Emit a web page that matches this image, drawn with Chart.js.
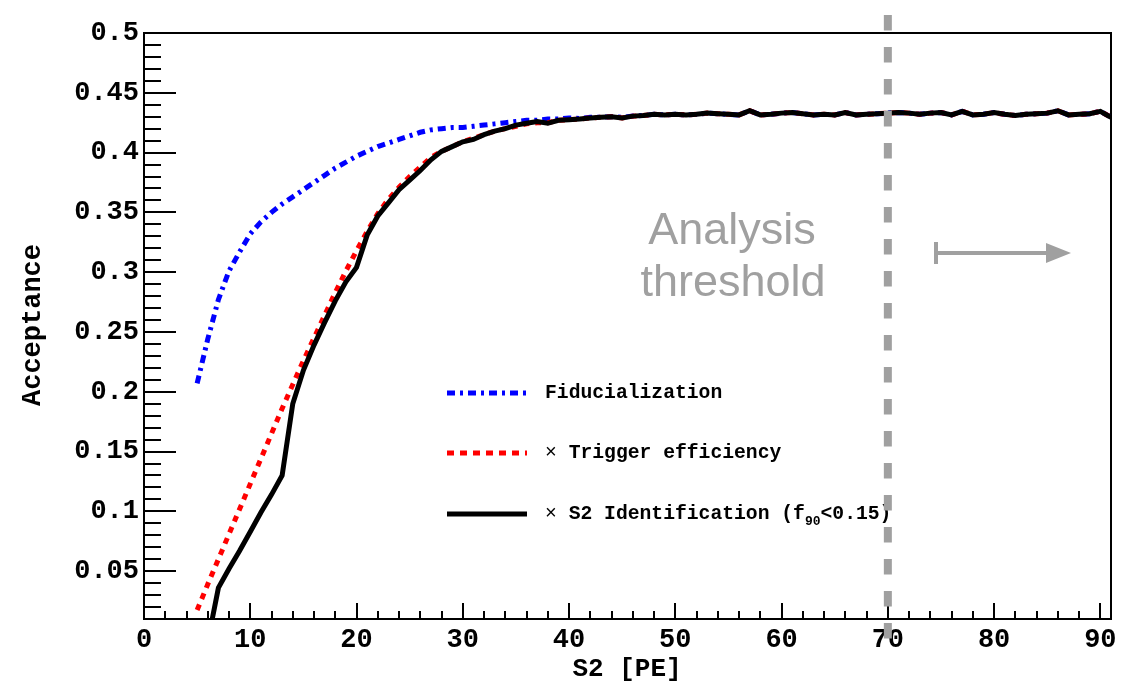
<!DOCTYPE html>
<html><head><meta charset="utf-8">
<script src="https://cdn.jsdelivr.net/npm/chart.js@4.4.1/dist/chart.umd.min.js"></script>
<style>html,body{margin:0;padding:0;background:#fff}</style>
</head><body>
<canvas id="c" width="1134" height="683"></canvas>
<script>
// ---------- data ----------
const s2PE = [5,6,7,8,9,10,11,12,13,14,15,16,17,18,19,20,21,22,23,24,25,26,27,28,29,30,31,32,33,34,35,36,37,38,39,40,
  41,42,43,44,45,46,47,48,49,50,51,52,53,54,55,56,57,58,59,60,61,62,63,64,65,66,67,68,69,70,71,72,73,74,75,76,77,78,79,80,
  81,82,83,84,85,86,87,88,89,90,91];

const fiducialization = [0.207,0.244,0.277,0.301,0.317,0.332,0.342,0.350,0.357,0.363,0.369,0.375,0.381,0.387,0.392,0.397,0.401,0.405,0.408,0.411,
  0.414,0.417,0.419,0.420,0.421,0.421,0.422,0.423,0.424,0.425,0.426,0.427,0.427,0.428,0.428,0.429,
  0.4285,0.4295,0.4295,0.430,0.4295,0.4305,0.431,0.432,0.4315,0.432,0.4315,0.432,0.433,0.4325,0.432,0.4315,0.435,0.4315,0.432,0.433,
  0.4335,0.4325,0.4315,0.432,0.4315,0.4335,0.4315,0.432,0.4325,0.433,0.4335,0.433,0.432,0.433,0.4335,0.4315,0.4345,0.4315,0.432,0.4335,
  0.432,0.431,0.432,0.4325,0.433,0.435,0.4315,0.432,0.4325,0.4345,0.4295];

const triggerEff = [0.0175,0.039,0.060,0.081,0.102,0.123,0.144,0.165,0.186,0.206,0.226,0.245,0.264,0.283,0.301,0.318,0.334,0.349,0.361,0.371,
  0.380,0.388,0.396,0.401,0.405,0.409,0.412,0.415,0.418,0.420,0.422,0.424,0.425,0.425,0.427,0.4275,
  0.428,0.429,0.4295,0.430,0.429,0.4305,0.431,0.432,0.4315,0.432,0.4315,0.432,0.433,0.4325,0.432,0.4315,0.435,0.4315,0.432,0.433,
  0.4335,0.4325,0.4315,0.432,0.4315,0.4335,0.4315,0.432,0.4325,0.433,0.4335,0.433,0.432,0.433,0.4335,0.4315,0.4345,0.4315,0.432,0.4335,
  0.432,0.431,0.432,0.4325,0.433,0.435,0.4315,0.432,0.4325,0.4345,0.4295];

const s2Ident = [null,-0.009,0.036,0.052,0.067,0.083,0.099,0.114,0.130,0.190,0.218,0.239,0.258,0.276,0.292,0.304,0.331,0.347,0.358,0.369,
  0.377,0.385,0.394,0.401,0.405,0.409,0.411,0.415,0.418,0.420,0.423,0.4245,0.426,0.4245,0.427,0.4275,
  0.428,0.429,0.4295,0.430,0.429,0.4305,0.431,0.432,0.4315,0.432,0.4315,0.432,0.433,0.4325,0.432,0.4315,0.435,0.4315,0.432,0.433,
  0.4335,0.4325,0.4315,0.432,0.4315,0.4335,0.4315,0.432,0.4325,0.433,0.4335,0.433,0.432,0.433,0.4335,0.4315,0.4345,0.4315,0.432,0.4335,
  0.432,0.431,0.432,0.4325,0.433,0.435,0.4315,0.432,0.4325,0.4345,0.4295];

const xTickValues = [0,10,20,30,40,50,60,70,80,90];
const yTickValues = [0.05,0.1,0.15,0.2,0.25,0.3,0.35,0.4,0.45,0.5];
const yTickLabels = ['0.05','0.1','0.15','0.2','0.25','0.3','0.35','0.4','0.45','0.5'];
const xMinorTicks = [0,2,4,6,8,10,12,14,16,18,20,22,24,26,28,30,32,34,36,38,40,42,44,46,48,50,52,54,56,58,60,62,64,66,68,70,72,74,76,78,80,82,84,86,88,90];
const yMinorTicks = [0.01,0.02,0.03,0.04,0.05,0.06,0.07,0.08,0.09,0.1,0.11,0.12,0.13,0.14,0.15,0.16,0.17,0.18,0.19,0.2,0.21,0.22,0.23,0.24,0.25,0.26,0.27,0.28,0.29,0.3,0.31,0.32,0.33,0.34,0.35,0.36,0.37,0.38,0.39,0.4,0.41,0.42,0.43,0.44,0.45,0.46,0.47,0.48,0.49,0.5];
const thresholdS2 = 70;
const legendLabels = ['Fiducialization', '× Trigger efficiency', '× S2 Identification (f90<0.15)'];

// ---------- helpers ----------
const pts = arr => s2PE.map((x,i)=>({x, y: arr[i]})).filter(p=>p.y!==null);
const MONO = '"Liberation Mono", "Courier New", monospace';
const GRAY = '#a0a0a0';

const framePlugin = {
  id:'frameTicks',
  beforeDatasetsDraw(chart){
    const {ctx, chartArea:a, scales:{x,y}} = chart;
    ctx.save();
    ctx.strokeStyle='#000'; ctx.lineWidth=2;
    ctx.strokeRect(a.left, a.top, a.right-a.left, a.bottom-a.top);
    ctx.beginPath();
    xMinorTicks.forEach(v=>{
      const px = Math.round(x.getPixelForValue(v));
      const len = (v % 10 === 0) ? 16 : 8;
      ctx.moveTo(px, a.bottom); ctx.lineTo(px, a.bottom-len);
    });
    yMinorTicks.forEach((v,i)=>{
      const py = Math.round(y.getPixelForValue(v));
      const len = ((i+1) % 5 === 0) ? 32 : 17;
      ctx.moveTo(a.left, py); ctx.lineTo(a.left+len, py);
    });
    ctx.stroke();
    ctx.restore();
  },
  afterDraw(chart){
    const {ctx, chartArea:a, scales:{x,y}} = chart;
    ctx.save();
    // axis titles
    ctx.fillStyle='#000';
    ctx.font = 'bold 26px '+MONO;
    ctx.textAlign='center'; ctx.textBaseline='middle';
    ctx.fillText('S2 [PE]', 627, 669);
    ctx.save();
    ctx.translate(33, 325); ctx.rotate(-Math.PI/2);
    ctx.font = 'bold 27px '+MONO;
    ctx.fillText('Acceptance', 0, 0);
    ctx.restore();

    // legend
    const lx0 = 447, lx1 = 527, tx = 545;
    const rows = [393, 453, 514];
    const styles = [
      {c:'#0000ff', d:[8,5,3,5], w:5},
      {c:'#ff0000', d:[7,6], w:5},
      {c:'#000000', d:[], w:5}
    ];
    styles.forEach((s,i)=>{
      ctx.beginPath(); ctx.strokeStyle=s.c; ctx.lineWidth=s.w; ctx.setLineDash(s.d);
      ctx.moveTo(lx0, rows[i]); ctx.lineTo(lx1, rows[i]); ctx.stroke();
    });
    ctx.setLineDash([]);
    ctx.textAlign='left'; ctx.textBaseline='middle'; ctx.fillStyle='#000';
    const F = 'bold 19.7px '+MONO;
    ctx.font = F;
    ctx.fillText(legendLabels[0], tx, rows[0]);
    const adv = ctx.measureText('M').width;
    ctx.font = '19.7px '+MONO;
    ctx.fillText(legendLabels[1].slice(0,1), tx, rows[1]);
    ctx.fillText(legendLabels[2].slice(0,1), tx, rows[2]);
    ctx.font = F;
    ctx.fillText(legendLabels[1].slice(2), tx+2*adv, rows[1]);
    const t3 = legendLabels[2].slice(2);
    const sub = t3.indexOf('90');
    const p1 = t3.slice(0, sub), p2 = t3.slice(sub, sub+2), p3 = t3.slice(sub+2);
    let cx = tx+2*adv;
    ctx.fillText(p1, cx, rows[2]); cx += ctx.measureText(p1).width;
    ctx.font = 'bold 13px '+MONO;
    ctx.fillText(p2, cx, rows[2]+8); cx += ctx.measureText(p2).width;
    ctx.font = F;
    ctx.fillText(p3, cx, rows[2]);

    // annotation text
    ctx.fillStyle = GRAY;
    ctx.font = '45px "Liberation Sans", Arial, sans-serif';
    ctx.textAlign='center'; ctx.textBaseline='alphabetic';
    ctx.fillText('Analysis', 732, 244);
    ctx.fillText('threshold', 733, 296);

    // arrow
    const ay = 253;
    ctx.strokeStyle = GRAY; ctx.lineWidth = 4;
    ctx.beginPath();
    ctx.moveTo(936, ay-11); ctx.lineTo(936, ay+11);
    ctx.moveTo(936, ay); ctx.lineTo(1050, ay);
    ctx.stroke();
    ctx.beginPath(); ctx.fillStyle = GRAY;
    ctx.moveTo(1046, ay-10); ctx.lineTo(1071, ay); ctx.lineTo(1046, ay+10); ctx.closePath(); ctx.fill();

    // threshold line
    const tpx = x.getPixelForValue(thresholdS2);
    ctx.strokeStyle = GRAY; ctx.lineWidth = 8; ctx.setLineDash([15.5,16.5]);
    ctx.beginPath(); ctx.moveTo(tpx, 15); ctx.lineTo(tpx, 640); ctx.stroke();
    ctx.restore();
  }
};

new Chart(document.getElementById('c'), {
  type:'line',
  data:{ datasets:[
    {label:legendLabels[0], data:pts(fiducialization), order:2, borderColor:'#0000ff', borderWidth:5, borderDash:[8,5,3,5], pointRadius:0, tension:0, fill:false, clip:0},
    {label:legendLabels[1], data:pts(triggerEff), order:1, borderColor:'#ff0000', borderWidth:5, borderDash:[6,6], pointRadius:0, tension:0, fill:false, clip:0},
    {label:legendLabels[2], data:pts(s2Ident), order:0, borderColor:'#000000', borderWidth:5, pointRadius:0, tension:0, fill:false, clip:0}
  ]},
  options:{
    responsive:false, animation:false, devicePixelRatio:1,
    layout:{padding:{top:33, right:23, left:0, bottom:0}},
    plugins:{legend:{display:false}, tooltip:{enabled:false}},
    scales:{
      x:{type:'linear', min:0, max:91,
        afterBuildTicks: s => { s.ticks = xTickValues.map(v=>({value:v})); },
        afterFit: s => { s.height = 64; },
        grid:{display:false, drawTicks:false}, border:{display:false},
        ticks:{autoSkip:false, maxRotation:0, padding:5, color:'#000', font:{family:MONO, weight:'bold', size:27}, callback:v=>String(v)}
      },
      y:{type:'linear', min:0.01, max:0.5,
        afterBuildTicks: s => { s.ticks = yTickValues.map(v=>({value:v})); },
        afterFit: s => { s.width = 144; },
        grid:{display:false, drawTicks:false}, border:{display:false},
        ticks:{autoSkip:false, padding:5, color:'#000', font:{family:MONO, weight:'bold', size:27},
          callback:(v)=>{ const i = yTickValues.indexOf(v); return i>=0 ? yTickLabels[i] : ''; }}
      }
    }
  },
  plugins:[framePlugin]
});
</script>
</body></html>
